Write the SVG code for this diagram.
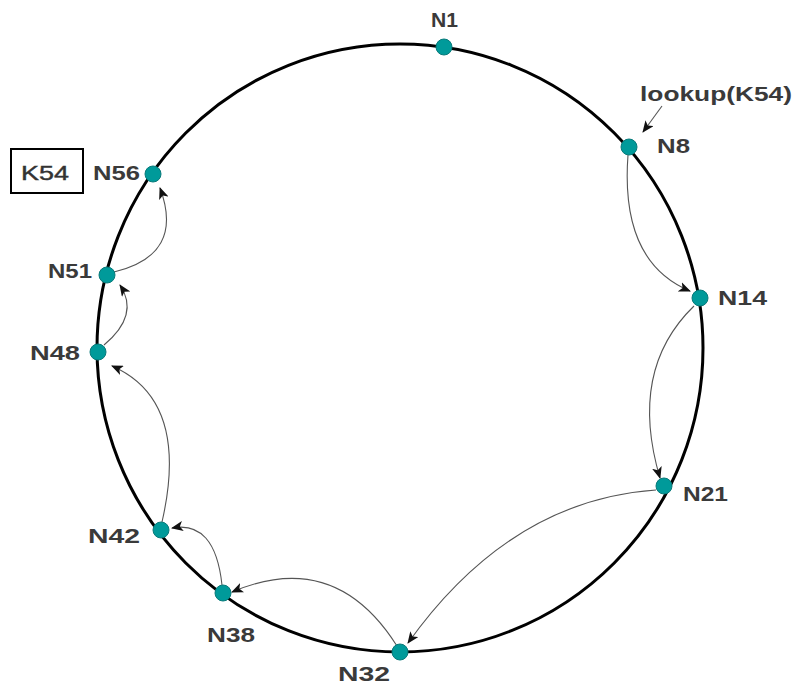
<svg xmlns="http://www.w3.org/2000/svg" width="804" height="686" viewBox="0 0 804 686">
<style>
.lbl{font-family:"Liberation Sans",Arial,sans-serif;font-size:20px;font-weight:bold;fill:#3a3a3a;}
.key{font-family:"Liberation Sans",Arial,sans-serif;font-size:20px;font-weight:normal;fill:#333;stroke:#333;stroke-width:0.4;}
.node{fill:#009a9a;stroke:#087a7a;stroke-width:1;}
.hop{fill:none;stroke:#555;stroke-width:1.1;marker-end:url(#ah);}
</style>
<defs>
<marker id="ah" viewBox="0 0 12 10" refX="11" refY="5" markerWidth="12" markerHeight="10" markerUnits="userSpaceOnUse" orient="auto">
<path d="M0,0 L12,5 L0,10 L3,5 Z" fill="#111"/>
</marker>
</defs>
<rect width="804" height="686" fill="#fff"/>
<g id="ring">
<ellipse cx="400" cy="348" rx="303" ry="304" fill="none" stroke="#000" stroke-width="3"/>
</g>
<g id="connectors">
<path class="hop" d="M662,106 L643,132"/>
<path class="hop" d="M628,155 Q620,262 690,291"/>
<path class="hop" d="M694,306 Q628,370 660,478"/>
<path class="hop" d="M656,490 Q510,500 408,643"/>
<path class="hop" d="M397,646 Q335,548 232,592"/>
<path class="hop" d="M222,585 Q215,520 172,528"/>
<path class="hop" d="M162,522 Q190,400 112,366"/>
<path class="hop" d="M104,345 Q140,315 120,285"/>
<path class="hop" d="M114,272 Q185,255 160,188"/>
</g>
<g id="lookup"><text class="lbl" x="640" y="101" textLength="152" lengthAdjust="spacingAndGlyphs">lookup(K54)</text></g>
<g id="K54"><rect x="11" y="149" width="72" height="44" fill="#fff" stroke="#000" stroke-width="2"/><text class="key" x="21" y="180" textLength="48" lengthAdjust="spacingAndGlyphs">K54</text></g>
<g id="N1"><circle class="node" cx="444" cy="47" r="8"/><text class="lbl" x="431" y="27" textLength="27" lengthAdjust="spacingAndGlyphs">N1</text></g>
<g id="N8"><circle class="node" cx="629" cy="147" r="8"/><text class="lbl" x="657" y="153" textLength="33" lengthAdjust="spacingAndGlyphs">N8</text></g>
<g id="N14"><circle class="node" cx="700" cy="298" r="8"/><text class="lbl" x="718" y="305" textLength="49" lengthAdjust="spacingAndGlyphs">N14</text></g>
<g id="N21"><circle class="node" cx="664" cy="486" r="8"/><text class="lbl" x="683" y="501" textLength="45" lengthAdjust="spacingAndGlyphs">N21</text></g>
<g id="N32"><circle class="node" cx="400" cy="652" r="8"/><text class="lbl" x="338" y="681" textLength="52" lengthAdjust="spacingAndGlyphs">N32</text></g>
<g id="N38"><circle class="node" cx="223" cy="593" r="8"/><text class="lbl" x="207" y="642" textLength="48" lengthAdjust="spacingAndGlyphs">N38</text></g>
<g id="N42"><circle class="node" cx="161" cy="530" r="8"/><text class="lbl" x="88" y="543" textLength="52" lengthAdjust="spacingAndGlyphs">N42</text></g>
<g id="N48"><circle class="node" cx="98" cy="352" r="8"/><text class="lbl" x="30" y="360" textLength="50" lengthAdjust="spacingAndGlyphs">N48</text></g>
<g id="N51"><circle class="node" cx="107" cy="275" r="8"/><text class="lbl" x="48" y="278" textLength="44" lengthAdjust="spacingAndGlyphs">N51</text></g>
<g id="N56"><circle class="node" cx="153" cy="174" r="8"/><text class="lbl" x="93" y="180" textLength="47" lengthAdjust="spacingAndGlyphs">N56</text></g>
</svg>
